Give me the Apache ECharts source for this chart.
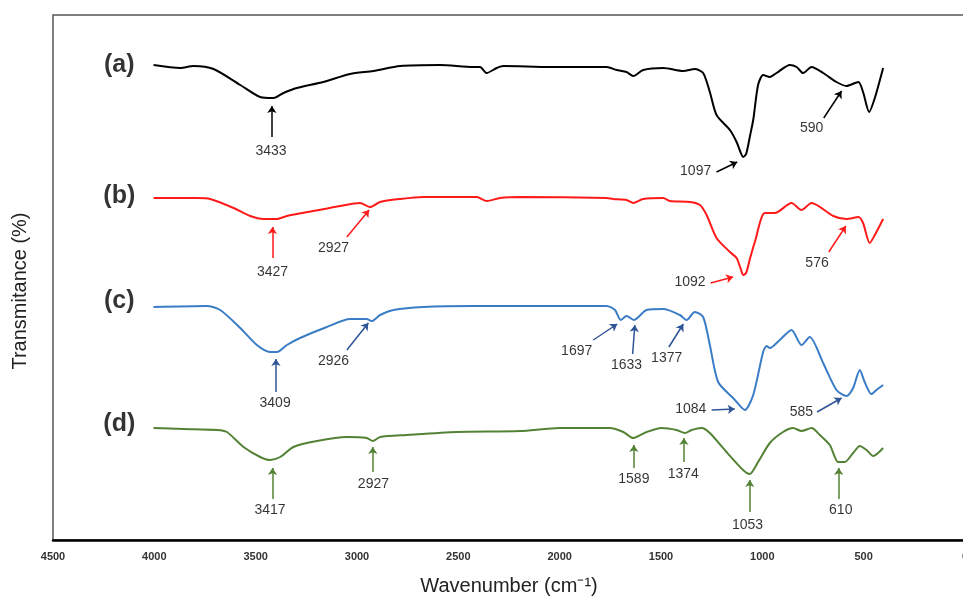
<!DOCTYPE html>
<html><head><meta charset="utf-8">
<script src="https://cdn.jsdelivr.net/npm/echarts@6/dist/echarts.min.js"></script>
<style>html,body{margin:0;padding:0;background:#fff}#c{width:963px;height:598px}</style>
</head><body><div id="c"></div>
<script>
// x ticks
var xTicks = [4500, 4000, 3500, 3000, 2500, 2000, 1500, 1000, 500, 0];
// spectra: [wavenumber, transmittance (offset, arbitrary units)]
var specA = [[4004,475],[3872,472],[3807,474],[3708,471],[3576,455],[3478,443],[3412,442],[3363,447],[3297,452],[3166,458],[3034,466],[2919,469],[2787,474],[2590,475],[2426,473],[2393,473],[2360,467],[2311,472],[2278,474],[2048,473],[1768,473],[1719,470],[1670,468],[1637,464],[1588,470],[1489,472],[1390,469],[1333,471],[1292,467],[1259,448],[1226,425],[1160,410],[1127,398],[1108,388],[1095,383],[1080,386],[1060,405],[1045,420],[1021,455],[996,465],[963,463],[930,467],[864,475],[831,473],[799,467],[757,473],[700,467],[634,458],[585,454],[526,458],[503,448],[473,428],[445,442],[404,472]];
var specB = [[4004,342],[3790,342],[3724,341],[3609,332],[3527,324],[3461,321],[3395,321],[3346,324],[3215,329],[3083,334],[2985,337],[2935,333],[2886,338],[2787,341],[2673,343],[2409,343],[2360,339],[2294,342],[2196,343],[1768,342],[1736,341],[1670,340],[1637,337],[1588,341],[1489,342],[1456,339],[1357,338],[1308,335],[1275,325],[1226,302],[1160,288],[1127,282],[1108,272],[1095,265],[1080,267],[1060,282],[1037,298],[988,327],[938,327],[856,337],[807,330],[757,337],[650,324],[585,321],[526,323],[503,317],[470,297],[445,305],[404,321]];
var specC = [[4004,233],[3741,234],[3675,230],[3576,212],[3494,195],[3429,188],[3395,188],[3346,195],[3281,202],[3149,213],[3034,221],[2952,221],[2927,219],[2886,225],[2820,230],[2673,233],[2426,234],[2196,234],[1768,234],[1727,230],[1699,220],[1670,224],[1634,220],[1571,230],[1489,231],[1407,225],[1374,220],[1333,228],[1292,223],[1259,195],[1218,158],[1144,142],[1086,130],[1045,145],[996,188],[979,194],[963,192],[914,200],[856,210],[807,195],[766,203],[700,177],[634,150],[585,144],[552,152],[519,170],[495,158],[462,146],[437,150],[404,155]];
var specD = [[4004,112],[3856,111],[3691,110],[3642,108],[3560,93],[3478,83],[3429,80],[3379,83],[3314,93],[3198,99],[3050,103],[2952,102],[2922,99],[2886,103],[2754,105],[2508,108],[2196,109],[2000,112],[1752,112],[1686,108],[1637,102],[1571,108],[1497,112],[1423,110],[1382,107],[1349,110],[1300,112],[1259,107],[1177,88],[1095,70],[1062,66],[1021,78],[963,97],[898,108],[848,112],[807,109],[757,112],[716,105],[667,95],[626,78],[593,78],[552,87],[519,94],[486,90],[453,84],[404,92]];
// peak annotations: [label, tailX, tailY, headX, headY, labelX, labelY]
var annA = [["3433",3420,403,3420,434,3424,389],["1097",1226,368,1124,378,1329,369],["590",697,422,609,449,757,412]];
var annB = [["3427",3417,282,3417,313,3417,268],["2927",3050,303,2940,330,3116,292],["1092",1255,257,1144,263,1357,258],["576",672,288,588,314,730,277]];
var annC = [["3409",3400,148,3400,181,3404,137],["2926",3050,190,2944,217,3116,179],["1697",1834,200,1716,216,1916,189],["1633",1640,186,1629,215,1670,175],["1377",1461,193,1390,216,1472,182],["1084",1250,130,1136,131,1353,131],["585",730,128,609,142,807,128]];
var annD = [["3417",3417,41,3417,72,3429,30],["2927",2922,68,2922,93,2919,56],["1589",1634,72,1634,95,1634,61],["1374",1387,78,1387,102,1390,66],["1053",1062,28,1062,60,1073,15],["610",623,41,623,72,613,30]];
// curve tags
var tags = [["(a)",4173,475],["(b)",4173,344],["(c)",4173,239],["(d)",4173,116]];

var chart = echarts.init(document.getElementById('c'));
var FONT = "'Liberation Sans', Arial, sans-serif";
function spec(name, data, color, arrowColor, ann) {
  return {
    name: name, type: 'line', data: data, showSymbol: false, smooth: 0.25,
    lineStyle: {color: color, width: 2}, itemStyle: {color: color},
    markLine: {
      silent: true, symbol: ['none', 'arrow'], symbolSize: 7,
      label: {show: false},
      lineStyle: {color: arrowColor, width: 1.5, type: 'solid'},
      data: ann.map(function (a) { return [{coord: [a[1], a[2]]}, {coord: [a[3], a[4]]}]; })
    }
  };
}
var labelData = [].concat(annA, annB, annC, annD).map(function (a) {
  return {name: a[0], value: [a[5], a[6]]};
});
var tagData = tags.map(function (t) { return {name: t[0], value: [t[1], t[2]]}; });

chart.setOption({
  animation: false,
  grid: {left: 53, right: -2, top: 15, bottom: 58, show: true, borderColor: '#555', borderWidth: 1.5,
         containLabel: false, outerBoundsMode: 'none'},
  xAxis: {
    type: 'value', min: 0, max: 4500, interval: 500, inverse: true,
    name: 'Wavenumber (cm\u207B\u00B9)', nameLocation: 'middle', nameGap: 36,
    nameTextStyle: {fontSize: 20, color: '#222', fontFamily: FONT},
    axisLine: {show: true, lineStyle: {color: '#000', width: 2.5}},
    axisTick: {show: false}, splitLine: {show: false},
    axisLabel: {margin: 11, fontSize: 11, fontWeight: 'bold', color: '#333', fontFamily: FONT,
      customValues: xTicks, formatter: function (v) { return String(v); }}
  },
  yAxis: {
    type: 'value', min: 0, max: 525,
    axisLine: {show: true, lineStyle: {color: '#111', width: 2}},
    axisTick: {show: false}, axisLabel: {show: false}, splitLine: {show: false}
  },
  graphic: [{
    type: 'text', x: 20, y: 291, rotation: Math.PI / 2,
    style: {text: 'Transmitance (%)', fontSize: 20, fill: '#222', fontFamily: FONT, align: 'center', verticalAlign: 'middle'}
  }],
  series: [
    spec('a', specA, '#000000', '#000000', annA),
    spec('b', specB, '#ff1a1a', '#ff1a1a', annB),
    spec('c', specC, '#3a7dc6', '#2f5597', annC),
    spec('d', specD, '#548235', '#548235', annD),
    {type: 'scatter', data: labelData, symbolSize: 0, silent: true,
     label: {show: true, position: 'inside', formatter: '{b}', fontSize: 14, color: '#000', fontFamily: FONT}},
    {type: 'scatter', data: tagData, symbolSize: 0, silent: true,
     label: {show: true, position: 'inside', formatter: '{b}', fontSize: 25, fontWeight: 'bold', color: '#000', fontFamily: FONT}}
  ]
});
</script></body></html>
